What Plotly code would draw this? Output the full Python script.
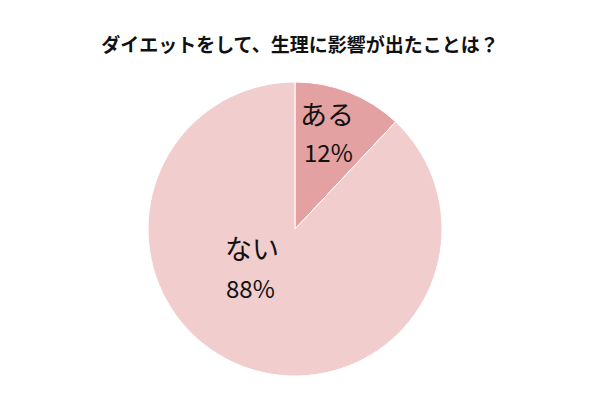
import plotly.graph_objects as go

# Survey answers
labels = ["ある", "ない"]
values = [12, 88]
colors = ["#e3a1a1", "#f2cdcd"]
title = "ダイエットをして、生理に影響が出たことは？"

# label placement (paper coords) for each slice
label_pos = [(0.545, 0.718), (0.420, 0.384)]
pct_pos = [(0.547, 0.621), (0.418, 0.282)]

JP = "Noto Sans CJK JP"

fig = go.Figure(
    go.Pie(
        labels=labels,
        values=values,
        sort=False,
        direction="clockwise",
        rotation=0,
        marker=dict(colors=colors, line=dict(color="white", width=1)),
        textinfo="none",
        hoverinfo="label+percent",
        domain=dict(x=[0.2467, 0.7367], y=[0.0623, 0.7955]),
        showlegend=False,
    )
)

total = sum(values)
for lab, v, (lx, ly), (px_, py_) in zip(labels, values, label_pos, pct_pos):
    fig.add_annotation(
        x=lx, y=ly, xref="paper", yref="paper", text=lab, showarrow=False,
        xanchor="center", yanchor="middle",
        font=dict(family=JP, size=27, color="#111111"),
    )
    fig.add_annotation(
        x=px_, y=py_, xref="paper", yref="paper",
        text=f"{round(v / total * 100)}%", showarrow=False,
        xanchor="center", yanchor="middle",
        font=dict(family=JP, size=24, color="#111111"),
    )

fig.update_layout(
    width=600,
    height=401,
    margin=dict(l=0, r=0, t=0, b=0),
    paper_bgcolor="white",
    plot_bgcolor="white",
    title=dict(
        text=f"<b>{title}</b>",
        x=0.5, y=0.888, xanchor="center", yanchor="middle",
        font=dict(family=JP, size=19, color="#111111"),
    ),
)

# drop the default page margin so the 600x401 figure sits at the corner
fig.write_html(
    "out.html",
    config={"displayModeBar": False},
    post_script="document.body.style.margin='0';",
)
